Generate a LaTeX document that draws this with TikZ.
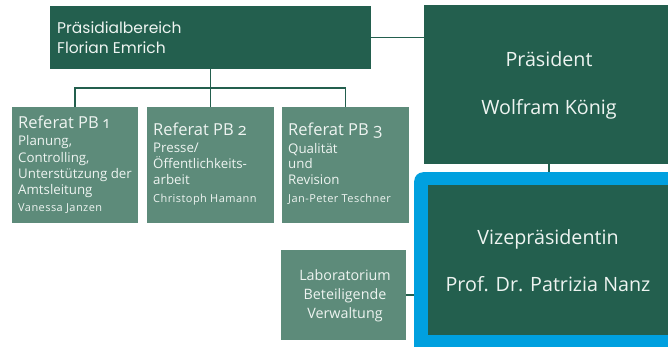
\documentclass[tikz,border=0pt]{standalone}
\usepackage{fontspec}
\setmainfont{Open Sans}
\newfontfamily\oldnum[Numbers=OldStyle]{Open Sans}
\newfontfamily\wide[LetterSpace=4]{Open Sans}
\newfontfamily\headfont{Poppins}
\definecolor{dkgreen}{HTML}{235F4E}
\definecolor{ltgreen}{HTML}{5D8B7A}
\definecolor{vblue}{HTML}{00A0DF}
\definecolor{txt}{HTML}{EEF4F1}
\begin{document}
\begin{tikzpicture}[x=1pt,y=-1pt,
  dbox/.style={fill=dkgreen,draw=none,inner sep=0pt},
  lbox/.style={fill=ltgreen,draw=none,inner sep=0pt},
  conn/.style={draw=dkgreen,line width=1.2pt},
  ttl/.style={text=txt,anchor=base west,inner sep=0pt,font=\oldnum\fontsize{16.5}{18}\selectfont},
  body/.style={text=txt,anchor=base west,inner sep=0pt,font=\fontsize{13.3}{14}\selectfont},
  nm/.style={text=txt,anchor=base west,inner sep=0pt,font=\wide\fontsize{11}{12}\selectfont},
  big/.style={text=txt,anchor=base,inner sep=0pt,font=\fontsize{19.7}{22}\selectfont},
  lab/.style={text=txt,anchor=base,inner sep=0pt,font=\fontsize{14.3}{16}\selectfont}]
\useasboundingbox (0,0) rectangle (668,346);
\clip (0,0) rectangle (668,346);
% boxes
\node[dbox,minimum width=321pt,minimum height=63pt] (pb) at (210.5,37.5) {};
\node[lbox,minimum width=126pt,minimum height=116pt] (r1) at (75,165) {};
\node[lbox,minimum width=127pt,minimum height=116pt] (r2) at (210.5,165) {};
\node[lbox,minimum width=127pt,minimum height=116pt] (r3) at (345.5,165) {};
\node[dbox,minimum width=260pt,minimum height=159pt] (pres) at (554,84.5) {};
\node[lbox,minimum width=125pt,minimum height=90pt] (lab) at (343.5,295) {};
\node[fill=vblue,rounded corners=9pt,inner sep=0pt,minimum width=290pt,minimum height=200pt,anchor=north west] (vize) at (414,172) {};
\node[dbox,minimum width=260pt,minimum height=150pt,anchor=north west] (vizein) at (428,185) {};
% connectors
\coordinate (bus) at (210.5,88);
\draw[conn] (pb.south) -- (pb.south |- bus);
\draw[conn] (r1.north) |- (bus) -| (r3.north);
\draw[conn] (bus) -- (r2.north);
\draw[conn] (pb.east) -- (pb.east -| pres.west);
\draw[conn] ([xshift=-5pt]pres.south) -- ([xshift=-5pt]pres.south |- vize.north);
\draw[conn] (lab.east) -- (lab.east -| vize.west);
% texts
\node[text=txt,anchor=base west,inner sep=0pt,font=\headfont\fontsize{15.5}{17}\selectfont] (t1) at (57,33) {Präsidialbereich};
\node[text=txt,anchor=base west,inner sep=0pt,font=\headfont\fontsize{15.5}{17}\selectfont] (t2) at (57,53) {Florian Emrich};
\node[ttl] (a1) at (18,128) {Referat PB 1};
\node[body] (a2) at (18,145) {Planung,};
\node[body] (a3) at (18,162) {Controlling,};
\node[body] (a4) at (18,178) {Unterstützung der};
\node[body] (a5) at (18,194) {Amtsleitung};
\node[nm] (a6) at (18,211) {Vanessa Janzen};
\node[ttl] (b1) at (153,135) {Referat PB 2};
\node[body] (b2) at (153,152) {Presse/};
\node[body] (b3) at (153,168) {Öffentlichkeits-};
\node[body] (b4) at (153,184) {arbeit};
\node[nm] (b5) at (153,202) {Christoph Hamann};
\node[ttl] (c1) at (288,135) {Referat PB 3};
\node[body] (c2) at (288,153) {Qualität};
\node[body] (c3) at (288,168) {und};
\node[body] (c4) at (288,184) {Revision};
\node[nm] (c5) at (288,202) {Jan-Peter Teschner};
\node[big] (p1) at (549,66) {Präsident};
\node[big] (p2) at (549,114) {Wolfram König};
\node[big] (v1) at (548,244) {Vizepräsidentin};
\node[big] (v2) at (548,291) {Prof. Dr. Patrizia Nanz};
\node[lab] (l1) at (345,280) {Laboratorium};
\node[lab] (l2) at (345,299) {Beteiligende};
\node[lab] (l3) at (345,318) {Verwaltung};
\end{tikzpicture}
\end{document}
